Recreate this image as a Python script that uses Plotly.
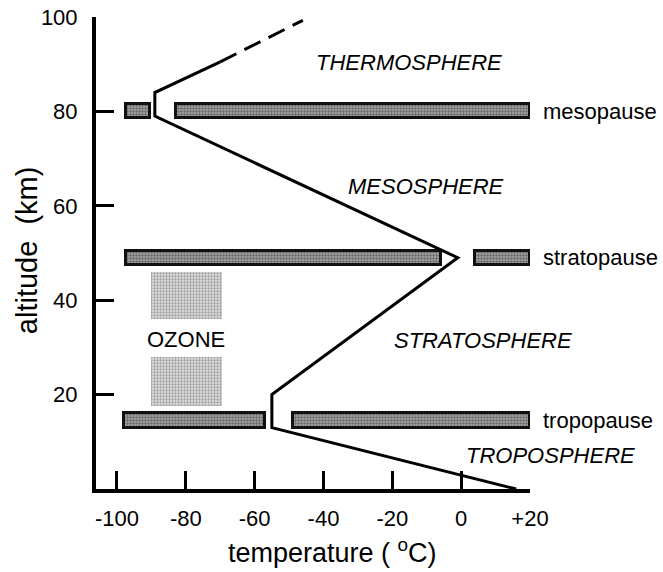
import plotly.graph_objects as go

# --- data ---
profile_temp = [16, -55, -55, -1, -89, -89, -70]
profile_alt = [0, 13, 20, 49, 79, 84, 90.5]
dashed_temp = [-70, -46]
dashed_alt = [90.5, 99.3]

pause_alt = [80, 80, 49, 49, 14.5, 14.5]
pause_start = [-97.5, -83, -97.5, 4, -98, -49]
pause_end = [-90.5, 20, -6, 20, -57, 20]
pause_names = ["mesopause", "stratopause", "tropopause"]
pause_label_alt = [80, 49, 14.5]
pause_label_temp = 23.3

ozone_bottom = [36, 17.5]
ozone_top = [46, 28]
ozone_left = [-90, -90]
ozone_right = [-69.5, -69.5]

layer_names = ["THERMOSPHERE", "MESOSPHERE", "STRATOSPHERE", "TROPOSPHERE"]
layer_temp = [-15.2, -10.1, 6.2, 26]
layer_alt = [90.4, 64, 31.4, 7.1]

x_tickvals = [-100, -80, -60, -40, -20, 0, 20]
x_ticktext = ["-100", "-80", "-60", "-40", "-20", "0", "+20"]
y_tickvals = [20, 40, 60, 80, 100]

x_title = "temperature ( <sup>o</sup>C)"
y_title = "altitude  (km)"

X_RANGE = [-106.1, 20]
Y_RANGE = [0, 100]

FONT = "Liberation Sans, Arial, sans-serif"


def px(t):
    # temperature -> paper fraction (so labels beyond the axis range still show)
    return (t - X_RANGE[0]) / (X_RANGE[1] - X_RANGE[0])


def py(a):
    return (a - Y_RANGE[0]) / (Y_RANGE[1] - Y_RANGE[0])


fig = go.Figure()

# ozone boxes
fig.add_trace(go.Bar(
    orientation="h",
    y=[(b + t) / 2 for b, t in zip(ozone_bottom, ozone_top)],
    width=[t - b for b, t in zip(ozone_bottom, ozone_top)],
    base=ozone_left,
    x=[r - l for l, r in zip(ozone_left, ozone_right)],
    marker=dict(color="white", line=dict(width=0),
                pattern=dict(shape=".", fgcolor="#5a5a5a", bgcolor="#e0e0e0",
                             size=3, solidity=0.45)),
    hoverinfo="skip", showlegend=False,
))

# pause bars
fig.add_trace(go.Bar(
    orientation="h",
    y=pause_alt,
    width=[3] * len(pause_alt),
    base=pause_start,
    x=[e - s for s, e in zip(pause_start, pause_end)],
    marker=dict(color="#888888", line=dict(color="#111111", width=3),
                pattern=dict(shape=".", fgcolor="#2a2a2a", bgcolor="#a8a8a8",
                             size=3, solidity=0.5)),
    hoverinfo="skip", showlegend=False,
))

# temperature profile
fig.add_trace(go.Scatter(
    x=profile_temp, y=profile_alt, mode="lines",
    line=dict(color="black", width=3),
    hoverinfo="skip", showlegend=False,
))
fig.add_trace(go.Scatter(
    x=dashed_temp, y=dashed_alt, mode="lines",
    line=dict(color="black", width=3, dash="18px,9px"),
    hoverinfo="skip", showlegend=False,
))

annotations = []
for name, t, a in zip(layer_names, layer_temp, layer_alt):
    annotations.append(dict(x=px(t), y=py(a), xref="paper", yref="paper",
                            text=f"<i>{name}</i>",
                            showarrow=False, xanchor="center", yanchor="middle",
                            font=dict(family=FONT, size=22, color="black")))
for name, a in zip(pause_names, pause_label_alt):
    annotations.append(dict(x=px(pause_label_temp), y=py(a), xref="paper", yref="paper",
                            text=name,
                            showarrow=False, xanchor="left", yanchor="middle",
                            font=dict(family=FONT, size=22, color="black")))
annotations.append(dict(x=px(-80), y=py(31.7), xref="paper", yref="paper", text="OZONE",
                        showarrow=False, xanchor="center", yanchor="middle",
                        font=dict(family=FONT, size=22, color="black")))
# axis titles
annotations.append(dict(x=0.546, y=-0.132, xref="paper", yref="paper", text=x_title,
                        showarrow=False, xanchor="center", yanchor="middle",
                        font=dict(family=FONT, size=27, color="black")))
annotations.append(dict(x=-0.159, y=0.506, xref="paper", yref="paper", text=y_title,
                        showarrow=False, xanchor="center", yanchor="middle", textangle=-90,
                        font=dict(family=FONT, size=29, color="black")))

fig.update_layout(
    width=663, height=572,
    margin=dict(l=96, r=133, t=17, b=82.5, pad=0),
    paper_bgcolor="white", plot_bgcolor="white",
    barmode="overlay", bargap=0,
    font=dict(family=FONT, size=22, color="black"),
    annotations=annotations,
    xaxis=dict(range=X_RANGE, tickvals=x_tickvals, ticktext=x_ticktext,
               automargin=False,
               ticks="inside", ticklen=18, tickwidth=3, tickcolor="black",
               showline=True, linewidth=4, linecolor="black",
               showgrid=False, zeroline=False,
               tickfont=dict(size=22), ticklabelstandoff=7),
    yaxis=dict(range=Y_RANGE, tickvals=y_tickvals,
               automargin=False,
               ticks="inside", ticklen=18, tickwidth=3, tickcolor="black",
               showline=True, linewidth=4, linecolor="black",
               showgrid=False, zeroline=False,
               tickfont=dict(size=22), ticklabelstandoff=10),
)

fig.write_html("out.html", config={"displayModeBar": False},
               post_script="document.body.style.margin='0px';document.body.style.overflow='hidden';")
